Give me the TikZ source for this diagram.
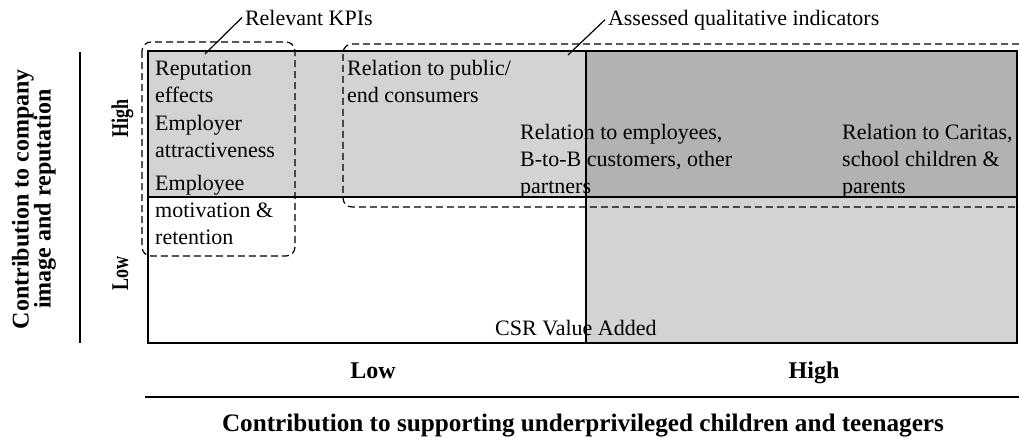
\documentclass[tikz,border=0pt]{standalone}
\usepackage{fontspec}
\setmainfont{Liberation Serif}
\definecolor{lightcell}{RGB}{211,211,211}
\definecolor{darkcell}{RGB}{178,178,178}
\begin{document}
\begin{tikzpicture}[x=1pt,y=-1pt,
  body/.style={font=\fontsize{22}{27}\selectfont, align=left, anchor=base west, inner sep=0pt},
  axislab/.style={font=\bfseries\fontsize{24}{22}\selectfont, inner sep=0pt},
  gridline/.style={line width=2pt},
  axisline/.style={line width=2pt},
  group/.style={line width=1.2pt, dash pattern=on 7pt off 4pt, rounded corners=9pt},
  leader/.style={line width=1.2pt},
  callout/.style={font=\fontsize{22}{27}\selectfont, anchor=base west, inner sep=0pt, outer sep=3pt}]
\useasboundingbox (0,0) rectangle (1019,437);
% cells
\fill[lightcell] (148,51) rectangle (586,197);
\fill[darkcell] (586,51) rectangle (1017,197);
\fill[lightcell] (586,197) rectangle (1017,343);
% grid
\draw[gridline] (148,51) rectangle (1017,343);
\draw[gridline] (148,197) -- (1017,197);
\draw[gridline] (586,51) -- (586,343);
% axis lines
\draw[axisline] (80,52) -- (80,343);
\draw[axisline] (145,397) -- (1019,397);
% dashed groups
\draw[group] (142,42) rectangle (295,256);
\draw[group] (1030,44) -- (343,44) -- (343,207) -- (1030,207);
% callouts
\node[callout] (kpi) at (242,25) {Relevant KPIs};
\node[callout] (ass) at (605,25) {Assessed qualitative indicators};
\coordinate (kpiend) at (205,54);
\coordinate (assend) at (568,55);
\draw[leader] (kpi.west) -- (kpiend);
\draw[leader] (ass.west) -- (assend);
% cell texts (base = baseline of last line)
\node[body] (rep) at (155,102) {Reputation\\effects};
\node[body] (empl) at (155,157) {Employer\\attractiveness};
\node[body] (emp) at (155,244) {Employee\\motivation \&\\retention};
\node[body] (pub) at (347,102) {Relation to public/\\end consumers};
\node[body] (emps) at (520,193) {Relation to employees,\\B-to-B customers, other\\partners};
\node[body] (car) at (842,193) {Relation to Caritas,\\school children \&\\parents};
\node[body] (csr) at (495,335) {CSR Value Added};
% axis labels
\node[axislab, anchor=base] (xlow) at (373,378) {Low};
\node[axislab, anchor=base] (xhigh) at (814,378) {High};
\node[axislab, font=\bfseries\fontsize{25.2}{22}\selectfont, anchor=base] (xtitle) at (583,431) {Contribution to supporting underprivileged children and teenagers};
\node[axislab, rotate=90, anchor=base] (yhigh) at (128,118) {\scalebox{0.75}[1]{High}};
\node[axislab, rotate=90, anchor=base] (ylow) at (128,273) {\scalebox{0.75}[1]{Low}};
\node[axislab, rotate=90, align=center] (ytitle) at (34,199) {Contribution to company\\image and reputation};
\end{tikzpicture}
\end{document}
